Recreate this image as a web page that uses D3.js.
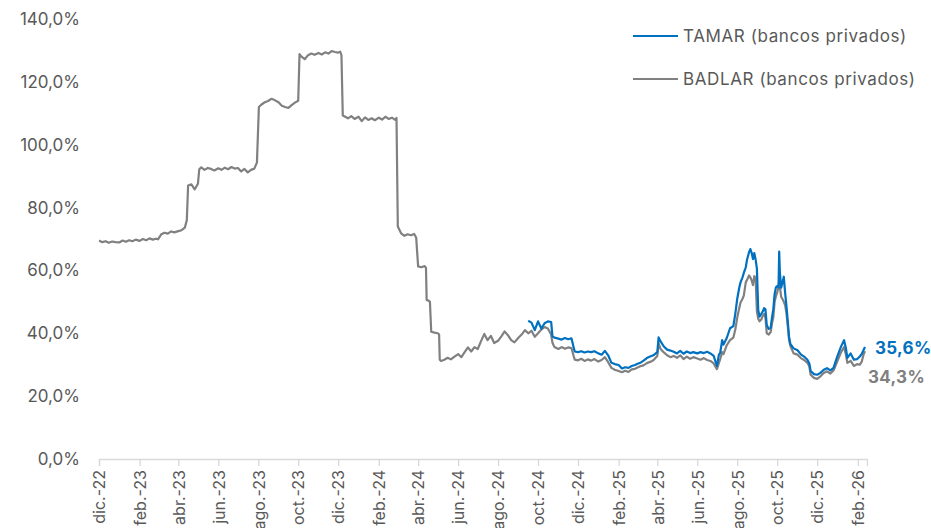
<!DOCTYPE html>
<html><head><meta charset="utf-8">
<script src="https://cdn.jsdelivr.net/npm/d3@7"></script>
<style>
body{margin:0;background:#fff}
svg{display:block;font-family:Inter,"Open Sans",sans-serif}
</style>
</head><body>
<svg id="chart" width="931" height="528"></svg>
<script>
// ---------- DATA ----------
const seriesNames = ["TAMAR (bancos privados)", "BADLAR (bancos privados)"];
const yTicks = [0, 20, 40, 60, 80, 100, 120, 140];
const xTickDates = ["2022-12-01","2023-02-01","2023-04-01","2023-06-01","2023-08-01","2023-10-01","2023-12-01",
  "2024-02-01","2024-04-01","2024-06-01","2024-08-01","2024-10-01","2024-12-01",
  "2025-02-01","2025-04-01","2025-06-01","2025-08-01","2025-10-01","2025-12-01","2026-02-01"];
const monthLabels = ["ene.","feb.","mar.","abr.","may.","jun.","jul.","ago.","sep.","oct.","nov.","dic."];
const endLabels = ["35,6%", "34,3%"];

const badlar = [
 ["2022-12-01",69.5],["2022-12-06",69.0],["2022-12-11",69.3],["2022-12-16",68.8],["2022-12-21",69.2],["2022-12-26",69.0],
 ["2023-01-01",68.9],["2023-01-06",69.5],["2023-01-11",69.1],["2023-01-16",69.6],["2023-01-21",69.3],["2023-01-26",69.8],
 ["2023-02-01",69.4],["2023-02-06",70.0],["2023-02-11",69.6],["2023-02-16",70.2],["2023-02-21",69.8],["2023-02-26",70.1],
 ["2023-03-01",69.9],["2023-03-06",71.5],["2023-03-11",72.0],["2023-03-16",71.7],["2023-03-21",72.4],["2023-03-26",72.1],
 ["2023-04-01",72.5],["2023-04-06",72.8],["2023-04-11",73.6],["2023-04-14",76.0],["2023-04-16",87.0],["2023-04-21",87.4],["2023-04-26",85.8],
 ["2023-05-01",87.6],["2023-05-03",92.2],["2023-05-06",92.8],["2023-05-11",92.0],["2023-05-16",92.6],["2023-05-21",92.3],["2023-05-26",91.8],
 ["2023-06-01",92.5],["2023-06-06",92.0],["2023-06-11",92.7],["2023-06-16",92.2],["2023-06-21",92.9],["2023-06-26",92.4],
 ["2023-07-01",92.6],["2023-07-06",91.5],["2023-07-11",92.3],["2023-07-16",91.2],["2023-07-21",92.0],["2023-07-26",92.4],["2023-07-30",94.3],
 ["2023-08-02",112.0],["2023-08-06",112.8],["2023-08-11",113.5],["2023-08-16",113.9],["2023-08-21",114.6],["2023-08-26",114.2],
 ["2023-09-01",113.5],["2023-09-06",112.4],["2023-09-11",112.0],["2023-09-16",111.7],["2023-09-21",112.6],["2023-09-26",113.4],
 ["2023-10-01",114.0],["2023-10-03",128.8],["2023-10-06",128.0],["2023-10-11",127.2],["2023-10-16",128.5],["2023-10-21",129.0],["2023-10-26",128.6],
 ["2023-11-01",129.2],["2023-11-06",128.7],["2023-11-11",129.4],["2023-11-16",129.0],["2023-11-21",129.8],["2023-11-26",129.5],
 ["2023-12-01",129.3],["2023-12-04",129.6],["2023-12-06",128.5],["2023-12-08",109.3],["2023-12-11",109.0],["2023-12-16",108.4],["2023-12-21",109.1],["2023-12-26",108.2],
 ["2024-01-01",108.9],["2024-01-06",107.5],["2024-01-11",108.7],["2024-01-16",107.9],["2024-01-21",108.4],["2024-01-26",107.8],
 ["2024-02-01",108.6],["2024-02-06",108.0],["2024-02-11",108.9],["2024-02-16",108.2],["2024-02-21",108.6],["2024-02-26",107.9],["2024-02-28",108.5],
 ["2024-03-01",74.0],["2024-03-06",71.8],["2024-03-11",71.0],["2024-03-16",71.5],["2024-03-21",71.2],["2024-03-26",71.6],["2024-03-29",70.5],
 ["2024-04-01",61.3],["2024-04-06",61.0],["2024-04-11",61.4],["2024-04-13",60.8],["2024-04-14",50.6],["2024-04-17",50.4],["2024-04-19",50.0],["2024-04-21",40.5],["2024-04-26",40.2],
 ["2024-05-01",40.0],["2024-05-03",39.6],["2024-05-04",31.6],["2024-05-06",31.2],["2024-05-11",31.6],["2024-05-16",32.2],["2024-05-21",31.7],["2024-05-26",32.5],
 ["2024-06-01",33.4],["2024-06-06",32.4],["2024-06-11",34.0],["2024-06-16",35.5],["2024-06-21",34.2],["2024-06-26",35.6],
 ["2024-07-01",35.0],["2024-07-06",37.5],["2024-07-11",39.8],["2024-07-16",37.8],["2024-07-21",39.2],["2024-07-26",36.9],
 ["2024-08-01",37.6],["2024-08-06",39.0],["2024-08-11",40.6],["2024-08-16",39.4],["2024-08-21",37.8],["2024-08-26",37.1],
 ["2024-09-01",38.6],["2024-09-06",39.6],["2024-09-11",41.0],["2024-09-16",40.0],["2024-09-21",40.8],["2024-09-26",38.9],
 ["2024-10-01",40.0],["2024-10-06",41.2],["2024-10-11",42.0],["2024-10-16",41.5],["2024-10-21",39.6],["2024-10-23",37.0],["2024-10-26",35.6],
 ["2024-11-01",35.0],["2024-11-06",35.6],["2024-11-11",35.1],["2024-11-16",35.5],["2024-11-21",35.3],["2024-11-24",33.0],["2024-11-26",31.6],
 ["2024-12-01",31.4],["2024-12-06",31.9],["2024-12-11",31.2],["2024-12-16",31.7],["2024-12-21",31.3],["2024-12-26",31.8],
 ["2025-01-01",31.0],["2025-01-06",31.5],["2025-01-11",32.4],["2025-01-16",30.8],["2025-01-21",29.0],["2025-01-26",28.4],
 ["2025-02-01",28.0],["2025-02-06",27.6],["2025-02-11",28.1],["2025-02-16",27.7],["2025-02-21",28.5],["2025-02-26",28.7],
 ["2025-03-01",29.0],["2025-03-06",29.5],["2025-03-11",29.8],["2025-03-16",30.5],["2025-03-21",30.9],["2025-03-26",31.4],
 ["2025-04-01",32.8],["2025-04-03",36.8],["2025-04-06",35.0],["2025-04-11",33.9],["2025-04-16",33.0],["2025-04-21",32.4],["2025-04-26",32.8],
 ["2025-05-01",32.2],["2025-05-06",33.0],["2025-05-11",31.8],["2025-05-16",32.6],["2025-05-21",31.9],["2025-05-26",32.4],
 ["2025-06-01",32.0],["2025-06-06",31.6],["2025-06-11",32.1],["2025-06-16",31.5],["2025-06-21",31.2],["2025-06-26",30.4],
 ["2025-07-01",28.6],["2025-07-04",30.6],["2025-07-06",31.8],["2025-07-09",34.0],["2025-07-11",33.4],["2025-07-16",36.2],["2025-07-21",37.8],["2025-07-26",38.6],["2025-07-29",41.2],
 ["2025-08-01",45.0],["2025-08-04",48.0],["2025-08-06",49.8],["2025-08-09",51.0],["2025-08-11",52.0],["2025-08-14",56.2],["2025-08-16",57.0],["2025-08-19",58.4],["2025-08-21",57.8],["2025-08-23",56.8],["2025-08-25",55.3],["2025-08-27",58.2],["2025-08-29",57.4],["2025-08-31",47.0],
 ["2025-09-02",44.6],["2025-09-04",43.8],["2025-09-07",44.5],["2025-09-09",45.6],["2025-09-11",46.2],["2025-09-13",45.0],["2025-09-15",40.0],["2025-09-18",39.6],["2025-09-21",40.4],["2025-09-23",43.2],["2025-09-25",45.0],["2025-09-27",50.0],["2025-09-29",51.8],
 ["2025-10-01",53.0],["2025-10-03",54.8],["2025-10-04",57.0],["2025-10-05",55.0],["2025-10-07",51.6],["2025-10-10",50.5],["2025-10-11",50.0],["2025-10-13",49.0],["2025-10-15",46.5],["2025-10-17",42.5],["2025-10-19",38.0],["2025-10-21",36.0],["2025-10-26",33.6],
 ["2025-11-01",33.2],["2025-11-06",32.1],["2025-11-11",31.5],["2025-11-16",30.6],["2025-11-19",29.5],["2025-11-21",26.8],["2025-11-26",25.8],
 ["2025-12-01",25.5],["2025-12-06",26.3],["2025-12-11",27.4],["2025-12-16",27.9],["2025-12-21",27.2],["2025-12-26",28.2],["2025-12-30",30.2],
 ["2026-01-01",31.2],["2026-01-06",33.8],["2026-01-11",35.6],["2026-01-14",33.0],["2026-01-16",30.6],["2026-01-21",31.2],["2026-01-26",29.6],["2026-01-31",30.2],
 ["2026-02-04",30.0],["2026-02-07",31.0],["2026-02-10",33.4],["2026-02-12",34.3]
];

const tamar = [
 ["2024-09-16",44.0],["2024-09-21",43.4],["2024-09-26",41.0],
 ["2024-10-01",43.8],["2024-10-06",41.5],["2024-10-11",43.2],["2024-10-16",43.8],["2024-10-21",43.6],["2024-10-23",39.0],["2024-10-26",38.6],
 ["2024-11-01",38.3],["2024-11-06",38.0],["2024-11-11",38.5],["2024-11-16",38.1],["2024-11-21",38.4],["2024-11-24",35.8],["2024-11-26",34.2],
 ["2024-12-01",34.0],["2024-12-06",34.3],["2024-12-11",33.9],["2024-12-16",34.2],["2024-12-21",34.0],["2024-12-26",34.3],
 ["2025-01-01",33.6],["2025-01-06",33.2],["2025-01-11",34.4],["2025-01-16",33.0],["2025-01-21",30.6],["2025-01-26",30.2],
 ["2025-02-01",29.9],["2025-02-06",28.8],["2025-02-11",29.2],["2025-02-16",29.0],["2025-02-21",29.6],["2025-02-26",29.9],
 ["2025-03-01",30.2],["2025-03-06",30.6],["2025-03-11",31.3],["2025-03-16",32.1],["2025-03-21",32.6],["2025-03-26",33.0],
 ["2025-04-01",34.0],["2025-04-03",38.7],["2025-04-06",37.4],["2025-04-11",35.8],["2025-04-16",34.8],["2025-04-21",34.5],["2025-04-26",34.1],
 ["2025-05-01",33.6],["2025-05-06",34.4],["2025-05-11",33.5],["2025-05-16",34.2],["2025-05-21",33.7],["2025-05-26",34.0],
 ["2025-06-01",33.6],["2025-06-06",34.0],["2025-06-11",33.7],["2025-06-16",34.1],["2025-06-21",33.6],["2025-06-26",32.8],
 ["2025-07-01",29.6],["2025-07-04",33.2],["2025-07-06",33.8],["2025-07-09",37.8],["2025-07-11",36.4],["2025-07-16",38.5],["2025-07-21",41.6],["2025-07-26",42.3],["2025-07-29",46.2],
 ["2025-08-01",51.0],["2025-08-04",54.5],["2025-08-06",56.2],["2025-08-09",57.8],["2025-08-11",59.2],["2025-08-14",61.0],["2025-08-16",63.5],["2025-08-19",65.8],["2025-08-21",66.8],["2025-08-23",65.6],["2025-08-25",63.6],["2025-08-27",65.5],["2025-08-29",63.5],["2025-08-31",60.5],
 ["2025-09-02",47.4],["2025-09-04",45.3],["2025-09-07",46.3],["2025-09-09",47.0],["2025-09-11",48.0],["2025-09-13",47.6],["2025-09-15",42.6],["2025-09-18",41.4],["2025-09-21",41.8],["2025-09-23",45.0],["2025-09-25",47.6],["2025-09-27",52.5],["2025-09-29",54.6],
 ["2025-10-01",55.0],["2025-10-03",54.6],["2025-10-04",66.0],["2025-10-05",59.5],["2025-10-07",54.5],["2025-10-10",57.0],["2025-10-11",58.0],["2025-10-13",53.0],["2025-10-15",48.8],["2025-10-17",44.0],["2025-10-19",39.0],["2025-10-21",36.6],["2025-10-26",35.2],
 ["2025-11-01",34.6],["2025-11-06",33.3],["2025-11-11",32.6],["2025-11-16",31.6],["2025-11-19",30.4],["2025-11-21",28.0],["2025-11-26",27.0],
 ["2025-12-01",26.8],["2025-12-06",27.4],["2025-12-11",28.4],["2025-12-16",28.9],["2025-12-21",28.2],["2025-12-26",29.0],["2025-12-30",31.6],
 ["2026-01-01",32.8],["2026-01-06",35.6],["2026-01-11",37.8],["2026-01-14",35.0],["2026-01-16",32.2],["2026-01-21",33.6],["2026-01-26",31.6],["2026-01-31",31.8],
 ["2026-02-04",32.6],["2026-02-07",33.4],["2026-02-10",34.8],["2026-02-12",35.6]
];

// ---------- CHART ----------
const parse = d3.timeParse("%Y-%m-%d");
const colors = ["#0070C0", "#808080"];
const textColor = "#595959";
const svg = d3.select("#chart");

const x = d3.scaleTime()
  .domain([parse("2022-12-01"), parse("2026-02-15")])
  .range([99, 867]);
const y = d3.scaleLinear().domain([0, 140]).range([459, 19]);

const loc = d3.formatLocale({decimal: ",", thousands: ".", grouping: [3], currency: ["$", ""]});
const fmt = loc.format(".1f");

// Y axis (labels only)
const gy = svg.append("g").attr("transform", "translate(99,0)")
  .call(d3.axisLeft(y).tickValues(yTicks).tickSize(0).tickPadding(19).tickFormat(d => fmt(d) + "%"));
gy.select(".domain").remove();
gy.selectAll("text").attr("fill", textColor).style("font-size", "17px")
  .style("font-family", "Inter, 'Open Sans', sans-serif");

// X axis
const gx = svg.append("g").attr("transform", "translate(0,459)")
  .call(d3.axisBottom(x).tickValues(xTickDates.map(parse)).tickSize(7)
    .tickFormat(d => monthLabels[d.getMonth()] + "-" + String(d.getFullYear()).slice(2)));
gx.select(".domain").attr("stroke", "#d9d9d9").attr("stroke-width", 1.3);
gx.selectAll(".tick line").attr("stroke", "#d9d9d9").attr("stroke-width", 1.3);
gx.selectAll(".tick text")
  .attr("transform", "rotate(-90)")
  .attr("x", -11).attr("y", 0).attr("dy", "0.36em")
  .attr("text-anchor", "end")
  .attr("fill", textColor)
  .style("font-size", "16px").style("font-family", "Inter, 'Open Sans', sans-serif");

// Lines
const line = d3.line().x(d => x(parse(d[0]))).y(d => y(d[1]));
[[badlar, colors[1]], [tamar, colors[0]]].forEach(([s, c]) => {
  svg.append("path").datum(s)
    .attr("fill", "none")
    .attr("stroke", c)
    .attr("stroke-width", 2.2)
    .attr("stroke-linejoin", "round")
    .attr("d", line);
});

// Legend
const legend = svg.append("g");
seriesNames.forEach((name, i) => {
  const ly = 36 + i * 43;
  legend.append("line").attr("x1", 633).attr("x2", 678).attr("y1", ly).attr("y2", ly)
    .attr("stroke", colors[i]).attr("stroke-width", 2.2);
  legend.append("text").attr("x", 683).attr("y", ly).attr("dy", "0.36em")
    .attr("fill", textColor).style("font-size", "17px").style("letter-spacing", "0.6px").text(name);
});

// End labels
const lastT = tamar[tamar.length - 1], lastB = badlar[badlar.length - 1];
svg.append("text").attr("x", x(parse(lastT[0])) + 10).attr("y", y(lastT[1]) + 1).attr("dy", "0.36em")
  .attr("fill", colors[0]).style("font-size", "17px").style("font-weight", "bold").style("letter-spacing", "0.3px").text(endLabels[0]);
svg.append("text").attr("x", x(parse(lastB[0])) + 3).attr("y", y(lastB[1]) + 26).attr("dy", "0.36em")
  .attr("fill", colors[1]).style("font-size", "17px").style("font-weight", "bold").style("letter-spacing", "0.3px").text(endLabels[1]);
</script>
</body></html>
